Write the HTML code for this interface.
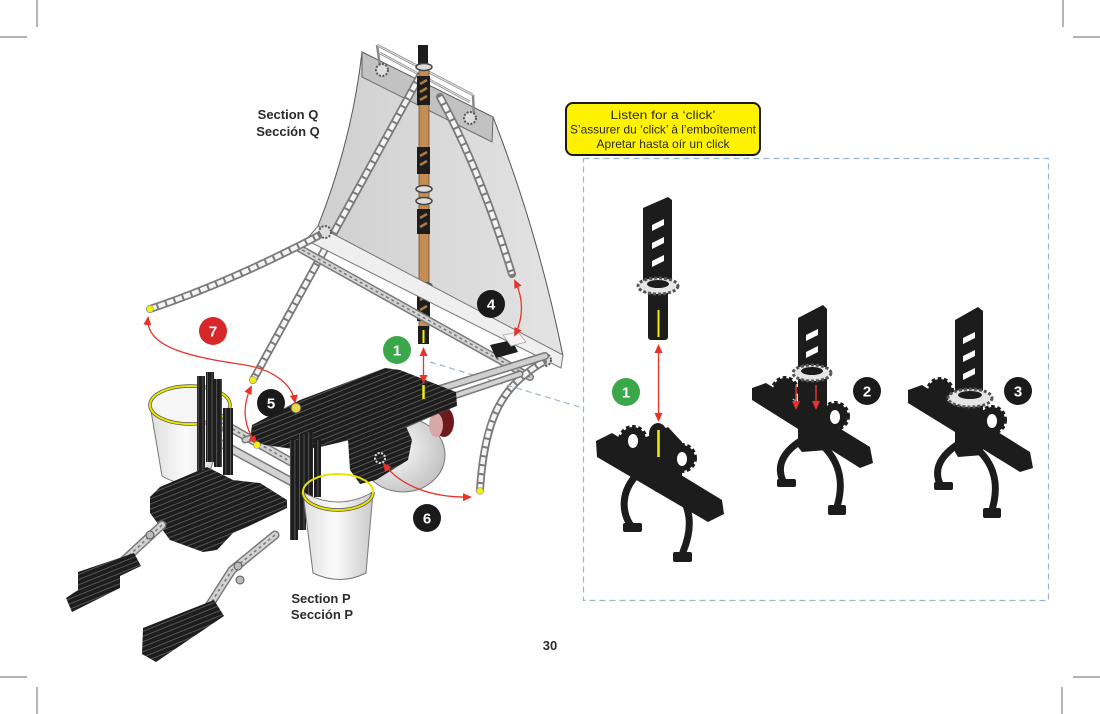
<!DOCTYPE html>
<html><head><meta charset="utf-8">
<style>
html,body{margin:0;padding:0;background:#fff;}
svg{display:block;}
text{font-family:"Liberation Sans",sans-serif;}
.ci{stroke:#f4f4f4;stroke-width:4.5;stroke-dasharray:7 2;stroke-linecap:butt;fill:none;}
.co{stroke:#7a7a7a;stroke-width:8;stroke-linecap:round;fill:none;}
</style></head><body>
<svg width="1100" height="714" viewBox="0 0 1100 714" xmlns="http://www.w3.org/2000/svg">
<defs>
 <pattern id="rods" width="9" height="4.8" patternUnits="userSpaceOnUse" patternTransform="rotate(-22)">
  <rect width="9" height="4.8" fill="#1d1d1d"/>
  <rect width="9" height="0.9" fill="#5a5a5a"/>
 </pattern>
 <pattern id="vrods" width="4.6" height="9" patternUnits="userSpaceOnUse">
  <rect width="4.6" height="9" fill="#1d1d1d"/>
  <rect width="0.9" height="9" fill="#5a5a5a"/>
 </pattern>
 <linearGradient id="sailg" x1="0" y1="0" x2="1" y2="0">
  <stop offset="0" stop-color="#d0d0d0"/><stop offset="1" stop-color="#e3e3e3"/>
 </linearGradient>
 <radialGradient id="ballg" cx="0.35" cy="0.4" r="0.8">
  <stop offset="0" stop-color="#ffffff"/><stop offset="1" stop-color="#b8b8b8"/>
 </radialGradient>
 <linearGradient id="cupg" x1="0" y1="0" x2="1" y2="0">
  <stop offset="0" stop-color="#dedede"/><stop offset="0.45" stop-color="#fbfbfb"/><stop offset="1" stop-color="#cbcbcb"/>
 </linearGradient>
 <marker id="ah" markerWidth="9" markerHeight="8" refX="7" refY="4" orient="auto-start-reverse" markerUnits="userSpaceOnUse">
  <path d="M0,0 L9,4 L0,8 Z" fill="#e8332b"/>
 </marker>
</defs>

<!-- crop marks -->
<g stroke="#9a9a9a" stroke-width="1.5">
 <line x1="37" y1="0" x2="37" y2="27"/><line x1="0" y1="37" x2="27" y2="37"/>
 <line x1="1063" y1="0" x2="1063" y2="27"/><line x1="1073" y1="37" x2="1100" y2="37"/>
 <line x1="37" y1="687" x2="37" y2="714"/><line x1="0" y1="677" x2="27" y2="677"/>
 <line x1="1062" y1="687" x2="1062" y2="714"/><line x1="1073" y1="677" x2="1100" y2="677"/>
</g>

<!-- SAIL -->
<path d="M362,52 L493,117 Q538,232 563,356 L318,226 Q352,140 362,52 Z" fill="url(#sailg)" stroke="#555" stroke-width="1"/>
<polygon points="362,52 493,117 492,142 362,77" fill="#c2c2c2" stroke="#666" stroke-width="1"/>
<!-- top frame -->
<g stroke="#8a8a8a" stroke-width="2.5" fill="none">
 <line x1="377" y1="45" x2="473" y2="95"/>
 <line x1="380" y1="53" x2="470" y2="102"/>
 <line x1="377" y1="45" x2="380" y2="66"/>
 <line x1="473" y1="95" x2="474" y2="115"/>
</g>
<g stroke="#e5e5e5" stroke-width="1" fill="none">
 <line x1="377" y1="45" x2="473" y2="95"/>
 <line x1="380" y1="53" x2="470" y2="102"/>
</g>
<circle cx="382" cy="70" r="6" fill="#ddd" stroke="#555" stroke-width="2" stroke-dasharray="2 1.5"/>
<circle cx="470" cy="118" r="6" fill="#ddd" stroke="#555" stroke-width="2" stroke-dasharray="2 1.5"/>

<!-- chains on sail -->
<path class="co" d="M420,76 L253,380"/>
<path class="ci" d="M420,76 L253,380"/>
<path class="co" d="M440,97 Q480,170 512,274"/>
<path class="ci" d="M440,97 Q480,170 512,274"/>

<!-- MAST -->
<rect x="419" y="67" width="10" height="262" fill="#c48d55" stroke="#6b4a2a" stroke-width="0.8"/>
<rect x="418" y="45" width="10" height="24" fill="#1d1d1d"/>
<g fill="#1d1d1d">
 <rect x="417" y="76" width="13" height="29"/>
 <rect x="417" y="147" width="13" height="27"/>
 <rect x="417" y="209" width="13" height="25"/>
 <rect x="417" y="291" width="13" height="30"/>
 <rect x="418" y="326" width="11" height="18"/>
</g>
<g stroke="#b07a44" stroke-width="2.5">
 <line x1="420" y1="84" x2="427" y2="80"/><line x1="420" y1="92" x2="427" y2="88"/><line x1="420" y1="100" x2="427" y2="96"/>
 <line x1="420" y1="156" x2="427" y2="152"/><line x1="420" y1="165" x2="427" y2="161"/>
 <line x1="420" y1="218" x2="427" y2="214"/><line x1="420" y1="227" x2="427" y2="223"/>
 <line x1="420" y1="300" x2="427" y2="296"/><line x1="420" y1="310" x2="427" y2="306"/>
</g>
<g fill="#ddd" stroke="#444" stroke-width="1.5">
 <ellipse cx="424" cy="189" rx="8" ry="3.5"/><ellipse cx="424" cy="201" rx="8" ry="3.5"/>
 <ellipse cx="424" cy="286" rx="8" ry="3.5"/><ellipse cx="424" cy="67" rx="8" ry="3.5"/>
</g>
<line x1="423.5" y1="330" x2="423.5" y2="343" stroke="#f2ee00" stroke-width="2"/>

<!-- BOOM -->
<polygon points="318,226 563,355 561,368 306,240" fill="#efefef" stroke="#777" stroke-width="1"/>
<g fill="none" stroke-linecap="round">
 <line x1="297" y1="247" x2="530" y2="377" stroke="#7a7a7a" stroke-width="8"/>
 <line x1="297" y1="247" x2="530" y2="377" stroke="#d3d3d3" stroke-width="5"/>
 <line x1="297" y1="247" x2="530" y2="377" stroke="#777" stroke-width="1.5" stroke-dasharray="3 3" stroke-linecap="butt"/>
</g>
<circle cx="325" cy="232" r="6" fill="#ddd" stroke="#555" stroke-width="2" stroke-dasharray="2 1.5"/>
<circle cx="545" cy="360" r="6" fill="#ddd" stroke="#555" stroke-width="2" stroke-dasharray="2 1.5"/>
<polygon points="490,345 512,340 518,352 496,358" fill="#1d1d1d"/>
<polygon points="503,335 518,332 526,342 511,346" fill="#f4f4f4" stroke="#aaa" stroke-width="0.8"/>

<!-- side chains -->
<path class="co" d="M150,309 Q230,282 318,236"/>
<path class="ci" d="M150,309 Q230,282 318,236"/>
<path class="co" d="M543,362 C505,385 485,412 480,490"/>
<path class="ci" d="M543,362 C505,385 485,412 480,490"/>

<!-- dashed connector -->
<line x1="430" y1="362" x2="583" y2="408" stroke="#9bb6cc" stroke-width="1.2" stroke-dasharray="6 4"/>

<!-- rails deck to boom -->
<g fill="none" stroke-linecap="round">
 <line x1="430" y1="392" x2="545" y2="356" stroke="#7a7a7a" stroke-width="8"/>
 <line x1="430" y1="392" x2="545" y2="356" stroke="#cfcfcf" stroke-width="5"/>
 <line x1="436" y1="402" x2="520" y2="374" stroke="#7a7a7a" stroke-width="7"/>
 <line x1="436" y1="402" x2="520" y2="374" stroke="#d3d3d3" stroke-width="4"/>
</g>

<!-- HULL -->
<ellipse cx="403" cy="455" rx="42" ry="37" fill="url(#ballg)" stroke="#777" stroke-width="1"/>
<ellipse cx="444" cy="422" rx="10" ry="15" fill="#6e1a1c"/>
<ellipse cx="436" cy="425" rx="7" ry="12" fill="#d9a7a7"/>

<!-- LEFT CUP -->
<path d="M150,405 L162,476 Q185,490 208,478 L230,405 Z" fill="url(#cupg)" stroke="#777" stroke-width="1"/>
<ellipse cx="190" cy="405" rx="40" ry="19" fill="#f6f6f6" stroke="#555" stroke-width="3.5"/>
<ellipse cx="190" cy="405" rx="40" ry="19" fill="none" stroke="#e8e400" stroke-width="2"/>

<!-- left rails under deck -->
<g fill="none" stroke-linecap="round">
 <line x1="222" y1="423" x2="300" y2="467" stroke="#7a7a7a" stroke-width="9"/>
 <line x1="222" y1="423" x2="300" y2="467" stroke="#d3d3d3" stroke-width="6"/>
 <line x1="222" y1="423" x2="300" y2="467" stroke="#777" stroke-width="1.5" stroke-dasharray="3 3" stroke-linecap="butt"/>
 <line x1="222" y1="444" x2="292" y2="482" stroke="#7a7a7a" stroke-width="9"/>
 <line x1="222" y1="444" x2="292" y2="482" stroke="#d3d3d3" stroke-width="6"/>
 <line x1="245" y1="440" x2="410" y2="380" stroke="#7a7a7a" stroke-width="7"/>
 <line x1="245" y1="440" x2="410" y2="380" stroke="#cfcfcf" stroke-width="4"/>
</g>

<!-- DECKS -->
<polygon points="252,425 300,400 385,368 400,370 456,392 457,406 440,413 405,428 350,440 320,447 300,450 265,445 250,440" fill="url(#rods)"/>
<polygon points="348,440 405,424 412,440 408,460 376,480 360,484 350,470" fill="url(#rods)"/>
<polygon points="150,497 160,487 207,467 233,480 260,483 287,500 287,508 247,527 233,533 217,550 203,552 170,540 150,513" fill="url(#rods)"/>

<!-- LEFT POST -->
<g fill="url(#vrods)">
 <rect x="197" y="376" width="8" height="95"/>
 <rect x="206" y="372" width="8" height="90"/>
 <rect x="214" y="379" width="8" height="88"/>
 <rect x="223" y="408" width="10" height="67"/>
</g>

<!-- MIDDLE POST -->
<g fill="url(#vrods)">
 <rect x="290" y="440" width="8" height="100"/>
 <rect x="298" y="434" width="8" height="96"/>
 <rect x="306" y="432" width="7" height="68"/>
 <rect x="314" y="440" width="7" height="57"/>
</g>

<!-- RIGHT CUP -->
<path d="M303,492 L313,573 Q340,586 366,573 L373,492 Q338,512 303,492 Z" fill="url(#cupg)" stroke="#777" stroke-width="1"/>
<path d="M303,492 A35,18 0 0 0 373,492" fill="none" stroke="#555" stroke-width="3.5"/>
<ellipse cx="338" cy="492" rx="35" ry="18" fill="none" stroke="#555" stroke-width="1.2"/>
<ellipse cx="338" cy="492" rx="35" ry="18" fill="none" stroke="#e8e400" stroke-width="2"/>

<!-- LEG RAILS -->
<g fill="none" stroke-linecap="round">
 <line x1="162" y1="525" x2="108" y2="575" stroke="#7a7a7a" stroke-width="9"/>
 <line x1="162" y1="525" x2="108" y2="575" stroke="#d3d3d3" stroke-width="6"/>
 <line x1="162" y1="525" x2="108" y2="575" stroke="#777" stroke-width="1.5" stroke-dasharray="3 3" stroke-linecap="butt"/>
 <path d="M275,535 L232,570 L200,620" stroke="#7a7a7a" stroke-width="9"/>
 <path d="M275,535 L232,570 L200,620" stroke="#d3d3d3" stroke-width="6"/>
 <path d="M275,535 L232,570 L200,620" stroke="#777" stroke-width="1.5" stroke-dasharray="3 3" stroke-linecap="butt"/>
</g>
<circle cx="150" cy="535" r="4" fill="#bbb" stroke="#555"/>
<circle cx="238" cy="566" r="4" fill="#bbb" stroke="#555"/>
<circle cx="240" cy="580" r="4" fill="#bbb" stroke="#555"/>
<!-- FEET -->
<polygon points="78,572 134,553 141,566 120,576 120,588 72,612 66,598 78,590" fill="url(#rods)"/>
<polygon points="143,628 214,600 224,616 156,662 142,654" fill="url(#rods)"/>

<!-- RING/JOINTS -->
<circle cx="380" cy="458" r="5" fill="none" stroke="#ddd" stroke-width="2" stroke-dasharray="2 1.5"/>
<circle cx="296" cy="408" r="5" fill="#e8d94a" stroke="#555" stroke-width="1"/>

<!-- RED ARROWS -->
<g fill="none" stroke="#e8332b" stroke-width="1.3">
 <path d="M148,318 C145,350 200,358 245,365 C275,370 292,385 295,402" marker-start="url(#ah)" marker-end="url(#ah)"/>
 <path d="M251,387 C240,410 246,430 256,443" marker-start="url(#ah)" marker-end="url(#ah)"/>
 <path d="M515,281 Q528,308 515,335" marker-start="url(#ah)" marker-end="url(#ah)"/>
 <path d="M384,464 C400,485 430,498 470,497" marker-start="url(#ah)" marker-end="url(#ah)"/>
 <path d="M423.5,349 L423.5,382" marker-start="url(#ah)" marker-end="url(#ah)"/>
 <path d="M658.5,346 L658.5,420" marker-start="url(#ah)" marker-end="url(#ah)"/>
</g>
<line x1="423.5" y1="385" x2="423.5" y2="399" stroke="#f2ee00" stroke-width="2.5"/>
<g fill="#f4f000" stroke="#999" stroke-width="0.6">
 <circle cx="150" cy="309" r="3.5"/><circle cx="253" cy="380" r="3.5"/>
 <circle cx="257" cy="445" r="3.5"/><circle cx="480" cy="491" r="3.5"/>
</g>

<!-- NUMBER CIRCLES -->
<g font-weight="bold" font-size="15" fill="#fff" text-anchor="middle">
 <circle cx="213" cy="331" r="14" fill="#d6282b"/><text x="213" y="336.5">7</text>
 <circle cx="397" cy="350" r="14" fill="#3aa84a"/><text x="397" y="355.5">1</text>
 <circle cx="491" cy="304" r="14" fill="#1a1a1a"/><text x="491" y="309.5">4</text>
 <circle cx="271" cy="403" r="14" fill="#1a1a1a"/><text x="271" y="408.5">5</text>
 <circle cx="427" cy="518" r="14" fill="#1a1a1a"/><text x="427" y="523.5">6</text>
 <circle cx="626" cy="392" r="14" fill="#3aa84a"/><text x="626" y="397.5">1</text>
 <circle cx="867" cy="391" r="14" fill="#1a1a1a"/><text x="867" y="396.5">2</text>
 <circle cx="1018" cy="391" r="14" fill="#1a1a1a"/><text x="1018" y="396.5">3</text>
</g>

<!-- TEXT -->
<g font-weight="bold" font-size="13" fill="#2b2b2b" text-anchor="middle">
 <text x="288" y="119">Section Q</text>
 <text x="288" y="136">Sección Q</text>
 <text x="321" y="603">Section P</text>
 <text x="322" y="619">Sección P</text>
 <text x="550" y="650">30</text>
</g>

<!-- YELLOW NOTE -->
<rect x="566" y="103" width="194" height="52" rx="7" fill="#fff200" stroke="#1a1a1a" stroke-width="2"/>
<g font-size="12" fill="#2a2a2a" text-anchor="middle">
 <text x="663" y="119" textLength="105" lengthAdjust="spacingAndGlyphs">Listen for a ‘click’</text>
 <text x="663" y="133.5" textLength="186" lengthAdjust="spacingAndGlyphs">S’assurer du ‘click’ à l’emboîtement</text>
 <text x="663" y="148" textLength="133" lengthAdjust="spacingAndGlyphs">Apretar hasta oír un click</text>
</g>

<!-- INSET BOX -->
<rect x="583.5" y="158.5" width="465" height="442" fill="none" stroke="#9bb6cc" stroke-width="1.2" stroke-dasharray="6 4"/>

<!-- PART A -->
<polygon points="643,208 668,197 672,200 672,287 646,293 643,290" fill="#1c1c1c"/>
<g fill="#fff">
 <polygon points="652,225 664,219 664,225 652,231"/>
 <polygon points="652,243 664,237 664,243 652,249"/>
 <polygon points="652,261 664,255 664,261 652,267"/>
</g>
<rect x="648" y="290" width="20" height="50" rx="3" fill="#1c1c1c"/>
<ellipse cx="658" cy="286" rx="20" ry="8" fill="#e6e6e6" stroke="#555" stroke-width="3" stroke-dasharray="3 2"/>
<ellipse cx="658" cy="284" rx="11" ry="4" fill="#1c1c1c"/>
<line x1="658.5" y1="310" x2="658.5" y2="337" stroke="#f2ee00" stroke-width="2"/>

<!-- PART B -->
<g fill="none" stroke="#1c1c1c" stroke-width="7" stroke-linecap="round">
 <path d="M642,470 C618,490 622,515 632,527"/>
 <path d="M667,478 C695,505 692,530 683,552"/>
</g>
<rect x="623" y="523" width="19" height="9" rx="2" fill="#1c1c1c"/>
<rect x="673" y="552" width="19" height="10" rx="2" fill="#1c1c1c"/>
<polygon points="596,441 612,433 722,500 724,514 708,522 597,457" fill="#1c1c1c"/>
<polygon points="640,440 668,427 682,442 682,482 656,492 640,476" fill="#1c1c1c"/>
<ellipse cx="658" cy="434" rx="9" ry="11" fill="#1c1c1c"/>
<g fill="#1c1c1c" stroke="#1c1c1c">
 <circle cx="633" cy="440" r="13" stroke-width="4" stroke-dasharray="3.5 2.5"/>
 <circle cx="682" cy="458" r="13" stroke-width="4" stroke-dasharray="3.5 2.5"/>
</g>
<ellipse cx="633" cy="441" rx="5" ry="7" fill="#fff"/>
<ellipse cx="682" cy="459" rx="5" ry="7" fill="#fff"/>
<line x1="658.5" y1="430" x2="658.5" y2="457" stroke="#f2ee00" stroke-width="2.5"/>

<!-- PART C -->
<g fill="none" stroke="#1c1c1c" stroke-width="7" stroke-linecap="round">
 <path d="M802,440 C778,455 778,470 783,481"/>
 <path d="M820,443 C845,465 842,490 837,507"/>
</g>
<rect x="777" y="479" width="19" height="8" rx="2" fill="#1c1c1c"/>
<rect x="828" y="505" width="18" height="10" rx="2" fill="#1c1c1c"/>
<polygon points="752,388 766,383 870,447 873,463 860,468 752,400" fill="#1c1c1c"/>
<polygon points="798,318 823,305 827,309 827,450 802,452 798,447" fill="#1c1c1c"/>
<g fill="#fff">
 <polygon points="806,335 818,329 818,335 806,341"/>
 <polygon points="806,352 818,346 818,352 806,358"/>
</g>
<g fill="#1c1c1c" stroke="#1c1c1c">
 <circle cx="785" cy="390" r="12" stroke-width="4" stroke-dasharray="3.5 2.5"/>
 <circle cx="835" cy="416" r="13" stroke-width="4" stroke-dasharray="3.5 2.5"/>
</g>
<ellipse cx="835" cy="417" rx="5" ry="7" fill="#fff"/>
<ellipse cx="812" cy="373" rx="19" ry="8" fill="#e6e6e6" stroke="#555" stroke-width="3" stroke-dasharray="3 2"/>
<ellipse cx="812" cy="371" rx="11" ry="4" fill="#1c1c1c"/>
<g stroke="#e8332b" stroke-width="1.5" fill="none">
 <line x1="796" y1="385" x2="796" y2="408" marker-end="url(#ah)"/>
 <line x1="816" y1="385" x2="816" y2="408" marker-end="url(#ah)"/>
</g>

<!-- PART D -->
<g fill="none" stroke="#1c1c1c" stroke-width="7" stroke-linecap="round">
 <path d="M960,443 C936,458 935,473 940,484"/>
 <path d="M975,447 C1000,468 997,493 992,510"/>
</g>
<rect x="934" y="482" width="19" height="8" rx="2" fill="#1c1c1c"/>
<rect x="983" y="508" width="18" height="10" rx="2" fill="#1c1c1c"/>
<polygon points="908,390 922,385 1030,452 1033,468 1020,472 908,403" fill="#1c1c1c"/>
<polygon points="955,320 978,307 983,311 983,455 958,457 955,452" fill="#1c1c1c"/>
<g fill="#fff">
 <polygon points="963,338 975,332 975,338 963,344"/>
 <polygon points="963,356 975,350 975,356 963,362"/>
 <polygon points="963,374 975,368 975,374 963,380"/>
</g>
<g fill="#1c1c1c" stroke="#1c1c1c">
 <circle cx="940" cy="391" r="12" stroke-width="4" stroke-dasharray="3.5 2.5"/>
 <circle cx="992" cy="420" r="13" stroke-width="4" stroke-dasharray="3.5 2.5"/>
</g>
<ellipse cx="992" cy="421" rx="5" ry="7" fill="#fff"/>
<ellipse cx="970" cy="398" rx="22" ry="9" fill="#e6e6e6" stroke="#555" stroke-width="3" stroke-dasharray="3 2"/>
<ellipse cx="970" cy="395" rx="12" ry="4" fill="#1c1c1c"/>
</svg>
</body></html>
